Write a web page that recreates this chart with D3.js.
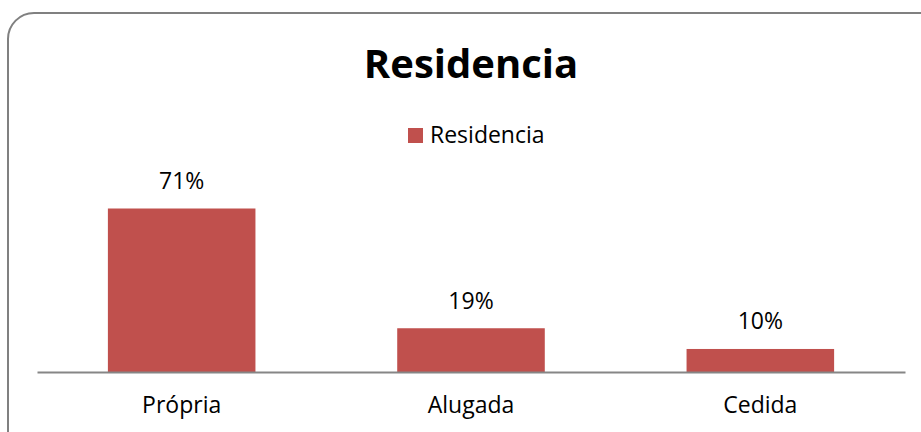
<!DOCTYPE html>
<html><head><meta charset="utf-8">
<script src="https://cdn.jsdelivr.net/npm/d3@7"></script>
<style>body{margin:0;background:#fff}svg{display:block}text{font-family:"Open Sans",sans-serif}</style>
</head><body>
<svg id="c" width="921" height="432"></svg>
<script>
const categories = ["Própria", "Alugada", "Cedida"];
const values = [71, 19, 10];
const seriesName = "Residencia";
const title = "Residencia";

const svg = d3.select("#c");
svg.append("rect").attr("x", 8).attr("y", 13).attr("width", 940).attr("height", 450)
  .attr("rx", 26).attr("ry", 26).attr("fill", "#fff").attr("stroke", "#808080").attr("stroke-width", 2);

const color = "#C0504D";
const left = 37, right = 905, base = 372;
const x = d3.scaleBand().domain(categories).range([left, right]).paddingInner(0.49).paddingOuter(0.245);
const y = d3.scaleLinear().domain([0, 71]).range([base, 208.5]);

svg.append("text").attr("x", 471).attr("y", 78).attr("text-anchor", "middle")
  .attr("font-size", 40).attr("font-weight", "bold").attr("fill", "#000").text(title);

const lg = svg.append("g");
lg.append("rect").attr("x", 408).attr("y", 128).attr("width", 15).attr("height", 15).attr("fill", color);
lg.append("text").attr("x", 430).attr("y", 143).attr("font-size", 23).attr("fill", "#000").text(seriesName);

svg.selectAll("rect.bar").data(values).join("rect").attr("class", "bar")
  .attr("x", (d, i) => x(categories[i])).attr("width", x.bandwidth())
  .attr("y", d => y(d)).attr("height", d => base - y(d)).attr("fill", color);

svg.selectAll("text.val").data(values).join("text").attr("class", "val")
  .attr("x", (d, i) => x(categories[i]) + x.bandwidth() / 2).attr("y", d => y(d) - 19.5)
  .attr("text-anchor", "middle").attr("font-size", 23).attr("fill", "#000").text(d => d + "%");

const ax = svg.append("g").attr("transform", `translate(0,${base})`)
  .call(d3.axisBottom(x).tickSize(0).tickPadding(25));
ax.select(".domain").attr("stroke", "#868686").attr("stroke-width", 2);
ax.selectAll("text").attr("font-size", 23).attr("fill", "#000").attr("font-family", "'Open Sans',sans-serif");
</script>
</body></html>
